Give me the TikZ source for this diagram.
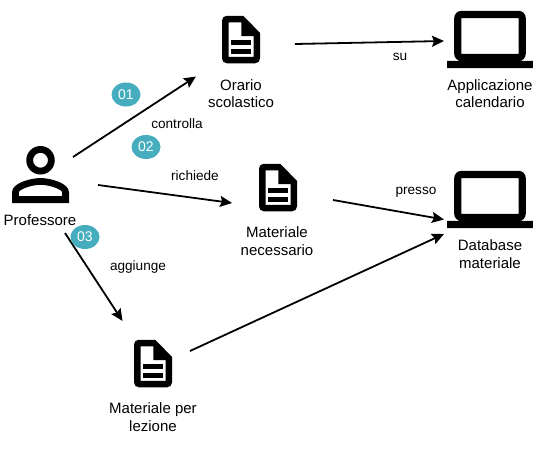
\documentclass[tikz,border=0pt]{standalone}
\usepackage{fontspec}
\setmainfont{Liberation Sans}
\usetikzlibrary{arrows.meta,shapes.geometric}
\definecolor{badgecol}{HTML}{45ADBD}
\tikzset{
  x=1pt,y=-1pt,
  conn/.style={draw=black,line width=1.8pt,-{Stealth[length=12pt,width=11pt,inset=2pt]}},
  lbl/.style={font=\fontsize{15}{17.6}\selectfont,align=center,text=black,inner sep=0pt},
  small/.style={font=\fontsize{13.6}{16}\selectfont,text=black,inner sep=0pt},
  badge/.style={ellipse,fill=badgecol,minimum width=29pt,minimum height=24pt,inner sep=0pt,text=white,font=\fontsize{14}{16}\selectfont},
  docicon/.pic={
    \begin{scope}[x=2.375pt,y=-2.375pt,shift={(-12,-12)}]
    \fill[black,even odd rule] (12.9,2) -- (6,2) .. controls (4.9,2) and (4,2.9) .. (4,4) -- (4,20) .. controls (4,21.1) and (4.9,22) .. (6,22) -- (18,22) .. controls (19.1,22) and (20,21.1) .. (20,20) -- (20,9.2) -- cycle
      (6.75,19.3) -- (6.75,4.75) -- (12.2,4.75) -- (12.2,10.6) -- (17.3,10.6) -- (17.3,19.3) -- cycle;
    \fill[black] (7.9,12) rectangle (16,14.3);
    \fill[black] (7.9,16.1) rectangle (16,18.3);
    \end{scope}
  },
  laptopicon/.pic={
    \begin{scope}[x=3.58pt,y=-3.58pt,shift={(-12,-12)}]
    \fill[black,even odd rule] (20,18) .. controls (21.1,18) and (21.99,17.1) .. (21.99,16) -- (22,6) .. controls (22,4.9) and (21.1,4) .. (20,4) -- (4,4) .. controls (2.9,4) and (2,4.9) .. (2,6) -- (2,16) .. controls (2,17.1) and (2.9,18) .. (4,18) -- (0,18) -- (0,20) -- (24,20) -- (24,18) -- cycle
      (4,6) -- (20,6) -- (20,16) -- (4,16) -- cycle;
    \end{scope}
  },
  personicon/.pic={
    \begin{scope}[x=3.5625pt,y=-3.5625pt,shift={(-12,-12)}]
    \fill[black,even odd rule] (12,8) circle[radius=4] (12,8) circle[radius=2.1];
    \fill[black,even odd rule] (12,13) .. controls (9.33,13) and (4,14.34) .. (4,17) -- (4,20) -- (20,20) -- (20,17) .. controls (20,14.34) and (14.67,13) .. (12,13) -- cycle
      (12,14.9) .. controls (14.97,14.9) and (18.1,16.36) .. (18.1,17) -- (18.1,18.1) -- (5.9,18.1) -- (5.9,17) .. controls (5.9,16.36) and (9.03,14.9) .. (12,14.9) -- cycle;
    \end{scope}
  }
}
\begin{document}
\begin{tikzpicture}
\useasboundingbox (0,0) rectangle (555,450);
\pic at (40.5,174.5) {personicon};
\pic at (241,39.5) {docicon};
\pic at (278,187.5) {docicon};
\pic at (153,363.5) {docicon};
\pic at (490,39.5) {laptopicon};
\pic at (490,199.5) {laptopicon};

\node[lbl] (prof) at (40,220) {Professore};
\node[lbl] (orario) at (241,93.5) {Orario\\scolastico};
\node[lbl] (matnec) at (277,241) {Materiale\\necessario};
\node[lbl] (matles) at (153,417) {Materiale per\\lezione};
\node[lbl] (app) at (490,93.5) {Applicazione\\calendario};
\node[lbl] (db) at (490,254) {Database\\materiale};

\node[small] (l1) at (177,124) {controlla};
\node[small] (l2) at (195,176) {richiede};
\node[small] (l3) at (138,267) {aggiunge};
\node[small] (l4) at (400,57) {su};
\node[small] (l5) at (416,192.5) {presso};

\coordinate (a1) at (73,157);   \coordinate (b1) at (196,76.5);
\coordinate (a2) at (295,44);   \coordinate (b2) at (444,41);
\coordinate (a3) at (98,185);   \coordinate (b3) at (232,203);
\coordinate (a4) at (333,200);  \coordinate (b4) at (444,219.5);
\coordinate (a5) at (65,233);   \coordinate (b5) at (122.5,321);
\coordinate (a6) at (190,351);  \coordinate (b6) at (444,234);
\draw[conn] (a1) -- (b1);
\draw[conn] (a2) -- (b2);
\draw[conn] (a3) -- (b3);
\draw[conn] (a4) -- (b4);
\draw[conn] (a5) -- (b5);
\draw[conn] (a6) -- (b6);

\node[badge] (n1) at (126,94.5) {01};
\node[badge] (n2) at (146,147) {02};
\node[badge] (n3) at (85,237) {03};
\end{tikzpicture}
\end{document}
